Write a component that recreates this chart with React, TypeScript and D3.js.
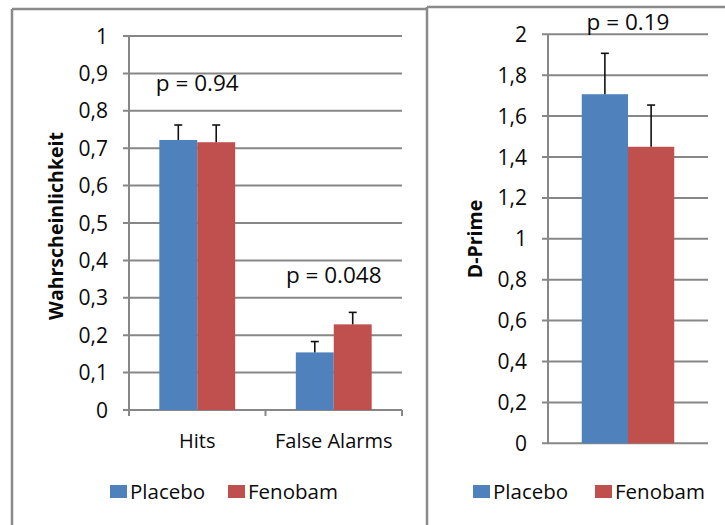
import React from "react";
import * as d3 from "d3";

const categories = ["Hits", "False Alarms"];
const series = ["Placebo", "Fenobam"];
const placeboProb = [0.722, 0.154];
const fenobamProb = [0.716, 0.229];
const placeboProbErr = [0.04, 0.029];
const fenobamProbErr = [0.046, 0.032];
const probPLabels = ["p = 0.94", "p = 0.048"];
const probPLabelY = [0.853, 0.34];

const dprimeCategory = ["D-Prime"];
const placeboDprime = [1.707];
const fenobamDprime = [1.45];
const placeboDprimeErr = [0.2];
const fenobamDprimeErr = [0.204];
const dprimePLabels = ["p = 0.19"];
const dprimePLabelY = [2.02];

const colors = ["#4F81BD", "#C0504D"];
const FONT = "'Open Sans', sans-serif";
const GRID = "#878787";

const fmt = d3
  .formatLocale({ decimal: ",", thousands: ".", grouping: [3], currency: ["", "€"] })
  .format(".1~f");

type PanelProps = {
  cats: string[];
  values: number[][];
  errs: number[][];
  pLabels: string[];
  pY: number[];
  yMax: number;
  yStep: number;
  x0: number;
  x1: number;
  yTop: number;
  yBottom: number;
  outerPad: number;
  showCatTicks: boolean;
  showCatLabels: boolean;
  title: string;
  titleX: number;
  titleY: number;
  legendX: number[];
};

function Panel(p: PanelProps) {
  const y = d3.scaleLinear().domain([0, p.yMax]).range([p.yBottom, p.yTop]);
  const xb = d3.scaleBand().domain(p.cats).range([p.x0, p.x1]).padding(0);
  const xs = d3
    .scaleBand()
    .domain(series)
    .range([0, xb.bandwidth()])
    .paddingInner(0)
    .paddingOuter(p.outerPad);
  const ticks = d3.range(0, p.yMax + p.yStep / 2, p.yStep);
  return (
    <g>
      {ticks.map((t, i) => (
        <g key={i}>
          <line x1={p.x0 - 6} x2={p.x1} y1={y(t)} y2={y(t)} stroke={GRID} strokeWidth={2} />
          <text
            x={p.x0 - 21}
            y={y(t)}
            dy="0.36em"
            textAnchor="end"
            fontFamily={FONT}
            fontSize={21}
            fill="#0a0a0a"
          >
            {fmt(t)}
          </text>
        </g>
      ))}
      <line x1={p.x0} x2={p.x0} y1={p.yTop} y2={p.yBottom + (p.showCatTicks ? 6 : 0)} stroke={GRID} strokeWidth={2} />
      {p.showCatTicks &&
        [...p.cats.map((c) => xb(c)!), p.x1].map((xx, i) => (
          <line key={i} x1={xx} x2={xx} y1={p.yBottom} y2={p.yBottom + 6} stroke={GRID} strokeWidth={2} />
        ))}
      {p.cats.map((c, ci) => (
        <g key={c}>
          {series.map((s, si) => {
            const v = p.values[si][ci];
            const e = p.errs[si][ci];
            const bx = xb(c)! + xs(s)!;
            const cx = bx + xs.bandwidth() / 2;
            return (
              <g key={s}>
                <rect x={bx} y={y(v)} width={xs.bandwidth()} height={y(0) - y(v)} fill={colors[si]} />
                <line x1={cx} x2={cx} y1={y(v)} y2={y(v + e)} stroke="#111" strokeWidth={1.6} />
                <line x1={cx - 4} x2={cx + 4} y1={y(v + e)} y2={y(v + e)} stroke="#111" strokeWidth={1.6} />
              </g>
            );
          })}
          {p.showCatLabels && (
            <text
              x={xb(c)! + xb.bandwidth() / 2}
              y={p.yBottom + 38}
              textAnchor="middle"
              fontFamily={FONT}
              fontSize={20}
              fill="#0a0a0a"
            >
              {c}
            </text>
          )}
          <text
            x={xb(c)! + xb.bandwidth() / 2}
            y={y(p.pY[ci])}
            textAnchor="middle"
            fontFamily={FONT}
            fontSize={22.5}
            fill="#0a0a0a"
          >
            {p.pLabels[ci]}
          </text>
        </g>
      ))}
      <text
        transform={`translate(${p.titleX},${p.titleY}) rotate(-90)`}
        textAnchor="middle"
        dy="0.35em"
        fontFamily={FONT}
        fontWeight="bold"
        fontSize={19.5}
        fill="#0a0a0a"
      >
        {p.title}
      </text>
      {series.map((s, si) => (
        <g key={s}>
          <rect x={p.legendX[si]} y={485} width={17} height={13} fill={colors[si]} />
          <text x={p.legendX[si] + 20} y={499} fontFamily={FONT} fontSize={20.5} fill="#0a0a0a">
            {s}
          </text>
        </g>
      ))}
    </g>
  );
}

export default function App() {
  return (
    <svg
      width={725}
      height={525}
      style={{ position: "absolute", left: 0, top: 0, background: "#fff" }}
    >
      <rect x={0} y={0} width={725} height={525} fill="#fff" />
      <Panel
        cats={categories}
        values={[placeboProb, fenobamProb]}
        errs={[placeboProbErr, fenobamProbErr]}
        pLabels={probPLabels}
        pY={probPLabelY}
        yMax={1}
        yStep={0.1}
        x0={129}
        x1={402}
        yTop={36}
        yBottom={410}
        outerPad={0.8}
        showCatTicks={true}
        showCatLabels={true}
        title="Wahrscheinlichkeit"
        titleX={56}
        titleY={226}
        legendX={[110, 228]}
      />
      <Panel
        cats={dprimeCategory}
        values={[placeboDprime, fenobamDprime]}
        errs={[placeboDprimeErr, fenobamDprimeErr]}
        pLabels={dprimePLabels}
        pY={dprimePLabelY}
        yMax={2}
        yStep={0.2}
        x0={548}
        x1={708}
        yTop={34.3}
        yBottom={443.3}
        outerPad={0.73}
        showCatTicks={false}
        showCatLabels={false}
        title="D-Prime"
        titleX={475}
        titleY={239}
        legendX={[473, 595]}
      />
      <line x1={12} x2={12} y1={9} y2={525} stroke="#8a8a8a" strokeWidth={2.5} />
      <line x1={12} x2={427} y1={9} y2={9} stroke="#8a8a8a" strokeWidth={2.5} />
      <line x1={427} x2={427} y1={7} y2={525} stroke="#8a8a8a" strokeWidth={2.5} />
      <line x1={427} x2={725} y1={7} y2={7} stroke="#8a8a8a" strokeWidth={2.5} />
    </svg>
  );
}
